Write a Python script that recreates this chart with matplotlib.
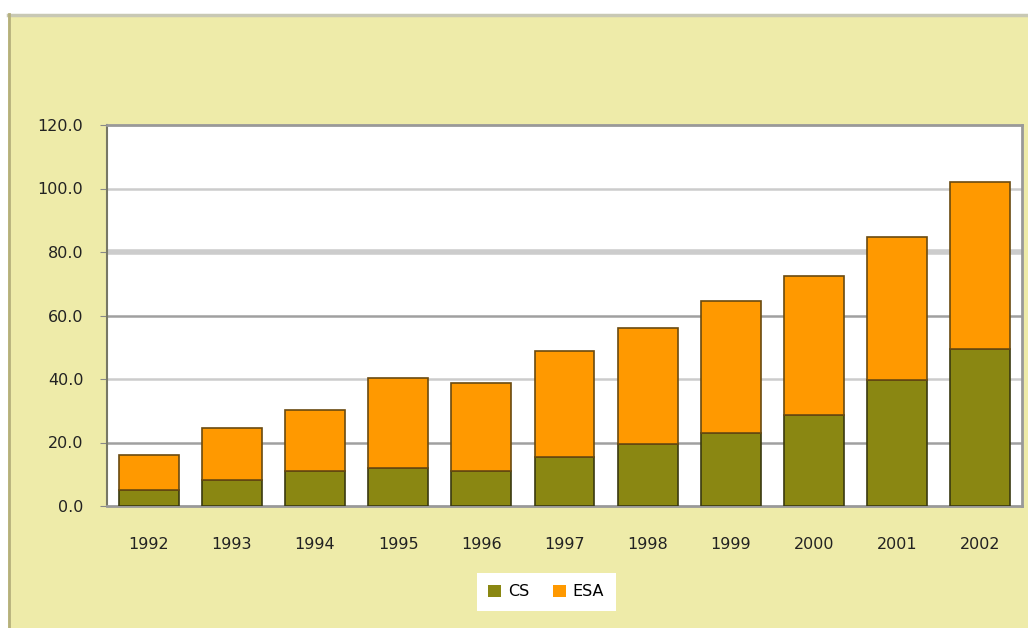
import matplotlib
matplotlib.use("Agg")
import matplotlib.pyplot as plt
from matplotlib.patches import Rectangle
import numpy as np

# data
years = ["1992", "1993", "1994", "1995", "1996", "1997", "1998", "1999", "2000", "2001", "2002"]
cs = [5.0, 8.2, 11.0, 11.9, 11.0, 15.5, 19.4, 22.9, 28.7, 39.7, 49.4]
total = [16.1, 24.6, 30.2, 40.2, 38.6, 48.9, 56.0, 64.7, 72.4, 84.6, 102.1]
esa = [t - c for t, c in zip(total, cs)]
yticks = [0, 20, 40, 60, 80, 100, 120]

W, H = 1028, 628
fig = plt.figure(figsize=(W / 100, H / 100), dpi=100, facecolor="white")

# yellow panel with grey edge on top/left
bg = "#EEEBA9"
fig.patches.append(Rectangle((8 / W, 0), 1 - 8 / W, 1 - 14 / H, transform=fig.transFigure,
                             facecolor=bg, edgecolor="none", zorder=-10))
fig.add_artist(plt.Line2D([8 / W, 1], [1 - 15 / H, 1 - 15 / H], transform=fig.transFigure,
                          color="#C8C8B4", lw=2.5, zorder=-5))
fig.add_artist(plt.Line2D([9 / W, 9 / W], [0, 1 - 14 / H], transform=fig.transFigure,
                          color="#B5B07C", lw=2, zorder=-5))

ax = fig.add_axes([107 / W, 1 - 506 / H, (1022 - 107) / W, (506 - 125) / H])
ax.set_facecolor("white")

x = np.arange(len(years))
ax.bar(x, cs, width=0.72, color="#8A8712", edgecolor="#3A3A10", linewidth=1.2,
       label="CS", zorder=3)
ax.bar(x, esa, width=0.72, bottom=cs, color="#FF9900", edgecolor="#6A4A10", linewidth=1.2,
       label="ESA", zorder=3)

ax.set_xlim(-0.5, len(years) - 0.5)
ax.set_ylim(0, 120)
ax.set_yticks(yticks)
ax.set_yticklabels([f"{v:.1f}" for v in yticks], fontsize=11.5, color="#222222")
ax.set_xticks(x)
ax.set_xticklabels(years, fontsize=11.5, color="#222222")
ax.tick_params(axis="x", length=0, pad=22)
ax.tick_params(axis="y", length=5, color="#888888", pad=12)

for v in yticks[1:-1]:
    lw = 4 if v == 80 else 1.8
    col = "#CCCCCC" if v in (40, 80, 100) else "#A0A0A0"
    ax.axhline(v, color=col, lw=lw, zorder=1)

for s in ["top", "right", "bottom"]:
    ax.spines[s].set_color("#999999")
    ax.spines[s].set_linewidth(2)
ax.spines["left"].set_color("#777766")
ax.spines["left"].set_linewidth(1.5)

leg = fig.legend(loc="center", bbox_to_anchor=(546 / W, 1 - 592 / H), ncol=2,
                 frameon=True, framealpha=1, fontsize=11.5, handlelength=0.8, handleheight=0.8,
                 columnspacing=1.5, handletextpad=0.4, borderpad=0.75)
leg.get_frame().set_facecolor("white")
leg.get_frame().set_edgecolor("none")
leg.get_frame().set_boxstyle("square", pad=0.0)
for h in leg.legend_handles:
    h.set_edgecolor("none")

fig.savefig("out.png", dpi=100, facecolor="white")
